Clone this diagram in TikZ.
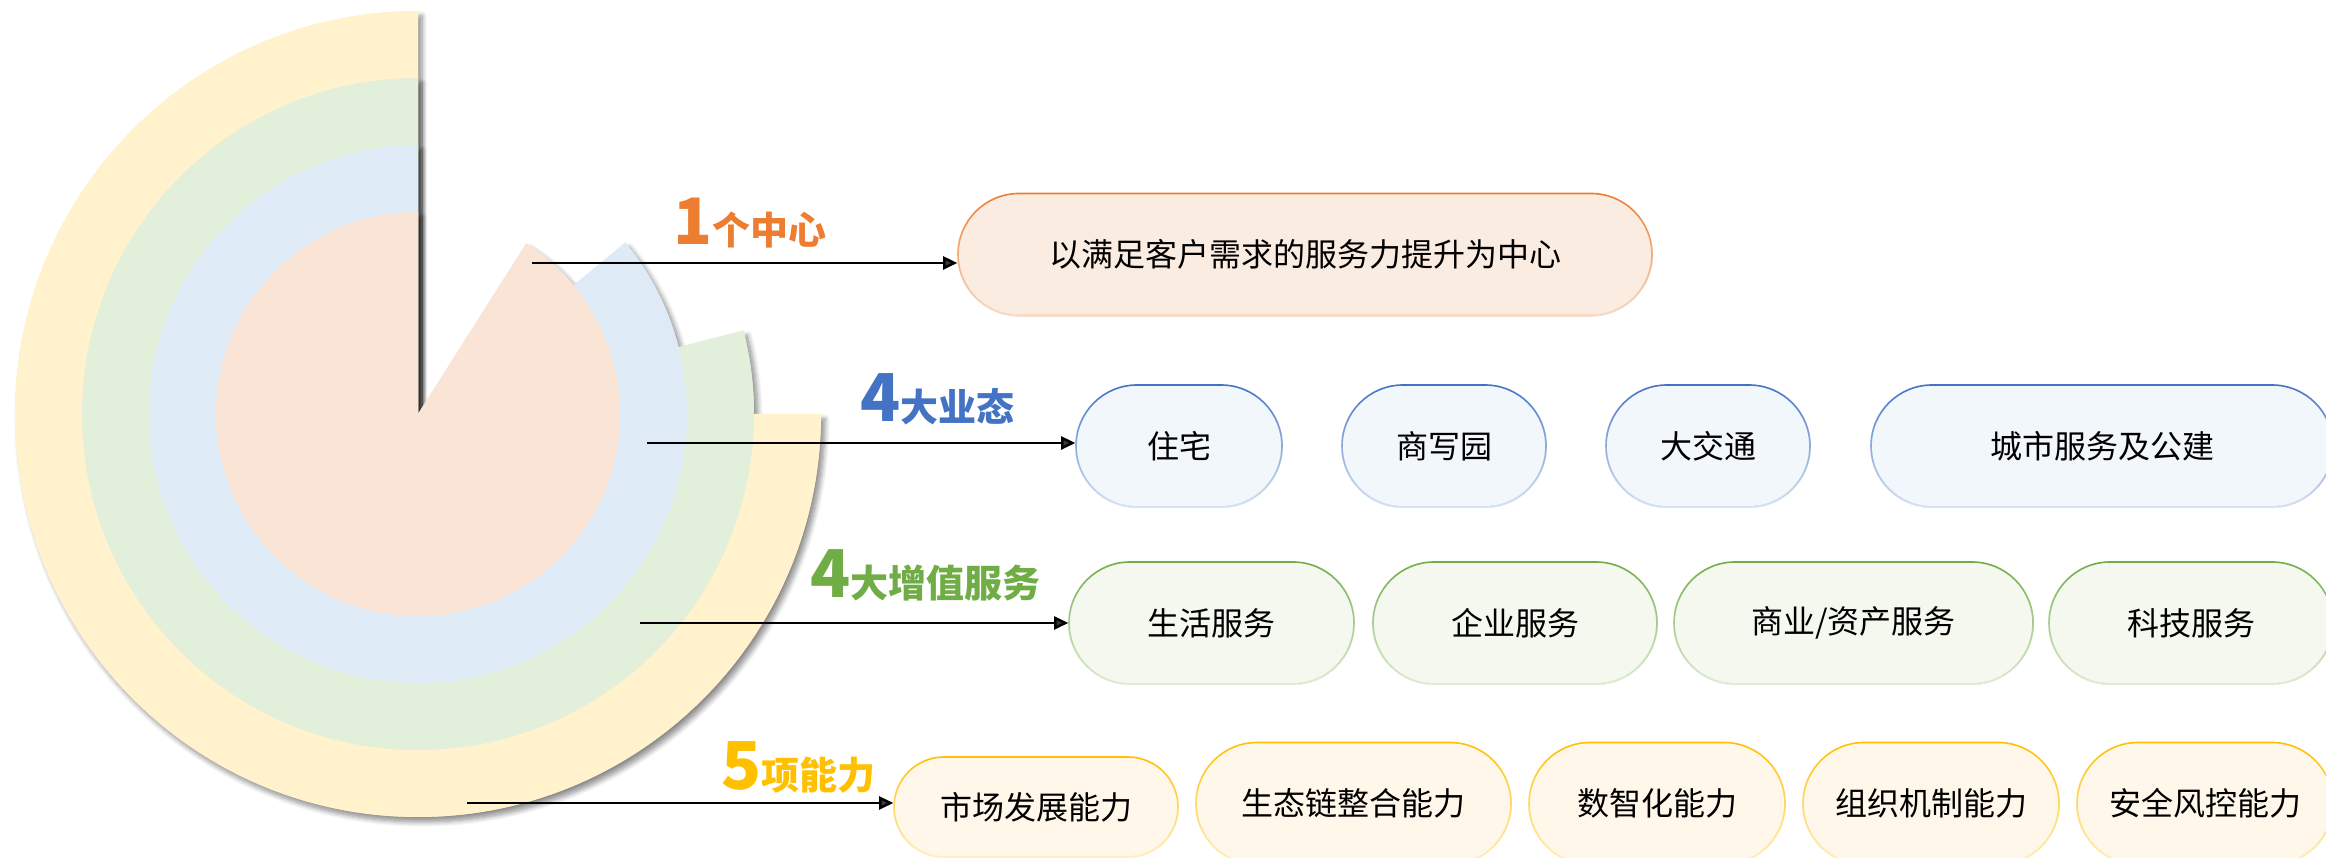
\documentclass[tikz,border=0pt]{standalone}
\usepackage{fontspec}
\setmainfont{Noto Sans CJK SC}
\usetikzlibrary{arrows.meta,shapes.misc,shadows.blur,fadings}
\definecolor{ringY}{HTML}{FFF2CC}
\definecolor{ringG}{HTML}{E2EFDA}
\definecolor{ringB}{HTML}{DEEAF6}
\definecolor{ringO}{HTML}{F9E4D6}
\definecolor{cOrange}{HTML}{ED7D31}
\definecolor{cBlue}{HTML}{4472C4}
\definecolor{cGreen}{HTML}{70AD47}
\definecolor{cGold}{HTML}{FFC000}
\definecolor{fOrange}{HTML}{FBECE1}
\definecolor{fBlue}{HTML}{F2F7FC}
\definecolor{fGreen}{HTML}{F4F8EF}
\definecolor{fGold}{HTML}{FFF8EA}
\begin{document}
\begin{tikzpicture}[x=1pt,y=1pt,
  sectorshadow/.style={fill=#1, blur shadow={shadow xshift=4pt, shadow yshift=-5pt, shadow blur radius=5pt, shadow blur steps=8, shadow opacity=45}},
  sector/.style={fill=#1},
  pill/.style n args={3}{rounded rectangle, draw=#1, line width=1.6pt, fill=#2, minimum width=#3, minimum height=122pt, inner sep=0pt, text=black, font=\fontsize{32}{32}\selectfont, postaction={draw=#2, line width=2.2pt, opacity=0.85, path fading=north}},
  link/.style={line width=2.5pt, -{Triangle[length=14pt,width=13pt]}},
  tag/.style={anchor=base west, inner sep=0pt, text=#1, font=\bfseries}
]
\useasboundingbox (0,0) rectangle (2326,858);
\clip (0,0) rectangle (2326,858);

% rings: shadows first, then clean fills on top
\coordinate (O) at (418,444);
\fill[sectorshadow=ringY] (O) -- ++(90:403) arc[start angle=90, end angle=360, radius=403] -- cycle;
\fill[sectorshadow=ringG] (O) -- ++(90:336) arc[start angle=90, end angle=374.4, radius=336] -- cycle;
\fill[sectorshadow=ringB] (O) -- ++(90:269) arc[start angle=90, end angle=399.6, radius=269] -- cycle;
\fill[sectorshadow=ringO] (O) -- ++(90:202) arc[start angle=90, end angle=417.6, radius=202] -- cycle;
\fill[sector=ringY] (O) -- ++(90:403) arc[start angle=90, end angle=360, radius=403] -- cycle;
\fill[sector=ringG] (O) -- ++(90:336) arc[start angle=90, end angle=374.4, radius=336] -- cycle;
\fill[sector=ringB] (O) -- ++(90:269) arc[start angle=90, end angle=399.6, radius=269] -- cycle;
\fill[sector=ringO] (O) -- ++(90:202) arc[start angle=90, end angle=417.6, radius=202] -- cycle;

% labels
\node[tag=cOrange] (t1) at (673,613) {{\fontsize{64}{64}\selectfont 1}{\fontsize{38}{38}\selectfont 个中心}};
\node[tag=cBlue] (t2) at (860,436) {{\fontsize{66}{66}\selectfont 4}{\fontsize{38}{38}\selectfont 大业态}};
\node[tag=cGreen] (t3) at (810,260) {{\fontsize{66}{66}\selectfont 4}{\fontsize{38}{38}\selectfont 大增值服务}};
\node[tag=cGold] (t4) at (721,68) {{\fontsize{66}{66}\selectfont 5}{\fontsize{38}{38}\selectfont 项能力}};

% row 1
\node[pill={cOrange}{fOrange}{694pt}] (b1) at (1305,603.5) {以满足客户需求的服务力提升为中心};
% row 2
\node[pill={cBlue}{fBlue}{206pt}] (b21) at (1179,412) {住宅};
\node[pill={cBlue}{fBlue}{204pt}] (b22) at (1444,412) {商写园};
\node[pill={cBlue}{fBlue}{204pt}] (b23) at (1708,412) {大交通};
\node[pill={cBlue}{fBlue}{462pt}] (b24) at (2102,412) {城市服务及公建};
% row 3
\node[pill={cGreen}{fGreen}{285pt}] (b31) at (1211.5,235) {生活服务};
\node[pill={cGreen}{fGreen}{284pt}] (b32) at (1515,235) {企业服务};
\node[pill={cGreen}{fGreen}{359pt}] (b33) at (1853.5,235) {商业/资产服务};
\node[pill={cGreen}{fGreen}{284pt}] (b34) at (2191,235) {科技服务};
% row 4
\node[pill={cGold}{fGold}{284pt}, minimum height=100pt] (b41) at (1036,51) {市场发展能力};
\node[pill={cGold}{fGold}{315pt}] (b42) at (1353.5,54.5) {生态链整合能力};
\node[pill={cGold}{fGold}{256pt}] (b43) at (1657,54.5) {数智化能力};
\node[pill={cGold}{fGold}{256pt}] (b44) at (1931,54.5) {组织机制能力};
\node[pill={cGold}{fGold}{256pt}] (b45) at (2205,54.5) {安全风控能力};

% connectors
\coordinate (a1) at (532,595);
\coordinate (a2) at (647,415);
\coordinate (a3) at (640,235);
\coordinate (a4) at (467,55);
\draw[link] (a1) -- (a1 -| b1.west);
\draw[link] (a2) -- (a2 -| b21.west);
\draw[link] (a3) -- (a3 -| b31.west);
\draw[link] (a4) -- (a4 -| b41.west);
\end{tikzpicture}
\end{document}
